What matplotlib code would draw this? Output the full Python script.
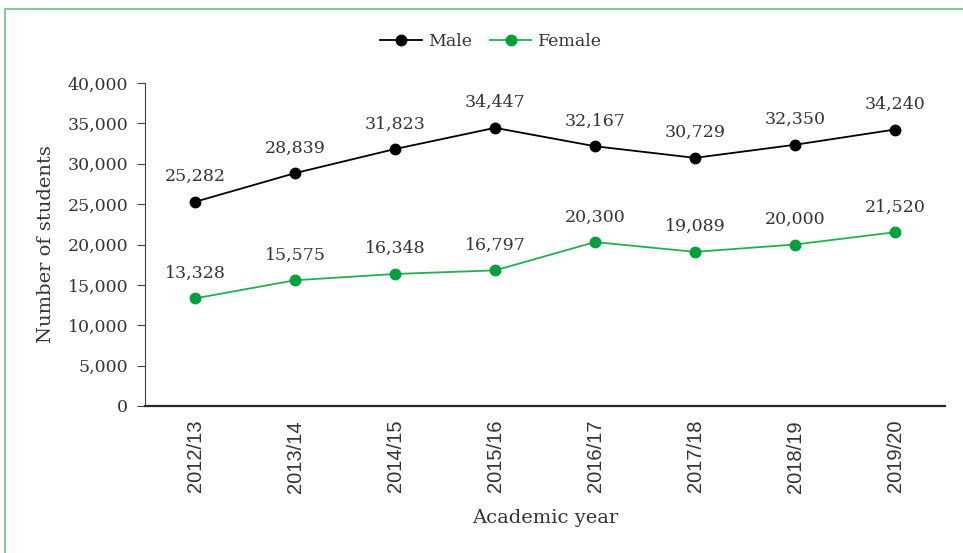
import matplotlib.pyplot as plt
from matplotlib.patches import Rectangle
from matplotlib.lines import Line2D
from matplotlib.ticker import FuncFormatter

years = ["2012/13", "2013/14", "2014/15", "2015/16",
         "2016/17", "2017/18", "2018/19", "2019/20"]
male = [25282, 28839, 31823, 34447, 32167, 30729, 32350, 34240]
female = [13328, 15575, 16348, 16797, 20300, 19089, 20000, 21520]

serif = ["DejaVu Serif"]
sans = ["Liberation Sans", "DejaVu Sans"]
txt_col = "#333333"
green = "#00a03c"

fig = plt.figure(figsize=(9.63, 5.53), dpi=100)
ax = fig.add_axes([145/963, 1 - 406/553, 800/963, 323/553])

x = list(range(len(years)))
ax.plot(x, male, color="black", lw=1.3, marker="o", ms=7.5, label="Male")
ax.plot(x, female, color="#22b04e", lw=1.3, marker="o", ms=7.5,
        mfc=green, mec=green, label="Female")

# value labels above each point
for xi, v in zip(x, male):
    ax.annotate(f"{v:,}", (xi, v), xytext=(0, 12), textcoords="offset points",
                ha="center", va="bottom", fontsize=12.5, family=serif, color=txt_col)
for xi, v in zip(x, female):
    ax.annotate(f"{v:,}", (xi, v), xytext=(0, 12), textcoords="offset points",
                ha="center", va="bottom", fontsize=12.5, family=serif, color=txt_col)

ax.set_xlim(-0.5, 7.5)
ax.set_ylim(0, 40000)
ax.set_yticks(range(0, 40001, 5000))
ax.yaxis.set_major_formatter(FuncFormatter(lambda v, p: f"{int(v):,}"))
ax.set_xticks(x)
ax.set_xticklabels(years, rotation=90, family=sans, fontsize=14.5, color=txt_col)
for lab in ax.get_yticklabels():
    lab.set_family(serif)
    lab.set_fontsize(12.5)
    lab.set_color(txt_col)

ax.spines["top"].set_visible(False)
ax.spines["right"].set_visible(False)
ax.spines["left"].set_color("#404040")
ax.spines["bottom"].set_color("#262626")
ax.spines["bottom"].set_linewidth(1.6)
ax.tick_params(axis="y", length=6, color="#404040", pad=6)
ax.tick_params(axis="x", length=0, pad=10)

ax.set_ylabel("Number of students", family=serif, fontsize=14, color=txt_col, labelpad=9)
ax.set_xlabel("Academic year", family=serif, fontsize=14, color=txt_col, labelpad=12)

handles = [Line2D([], [], color="black", lw=1.3, marker="o", ms=7.5),
           Line2D([], [], color="#22b04e", lw=1.3, marker="o", ms=7.5, mfc=green, mec=green)]
leg = fig.legend(handles, ["Male", "Female"], loc="center", bbox_to_anchor=(0.51, 1 - 42/553),
                 ncol=2, frameon=False, prop={"family": serif, "size": 12.5},
                 handlelength=2.4, columnspacing=1.0, handletextpad=0.4)
for t in leg.get_texts():
    t.set_color(txt_col)

# thin green frame around the figure
fig.patches.append(Rectangle((5/963, -0.05), 1.2, 1 - 9/553 + 0.05, transform=fig.transFigure,
                             fill=False, ec="#6cc07c", lw=1.2))

fig.savefig("out.png", dpi=100)
